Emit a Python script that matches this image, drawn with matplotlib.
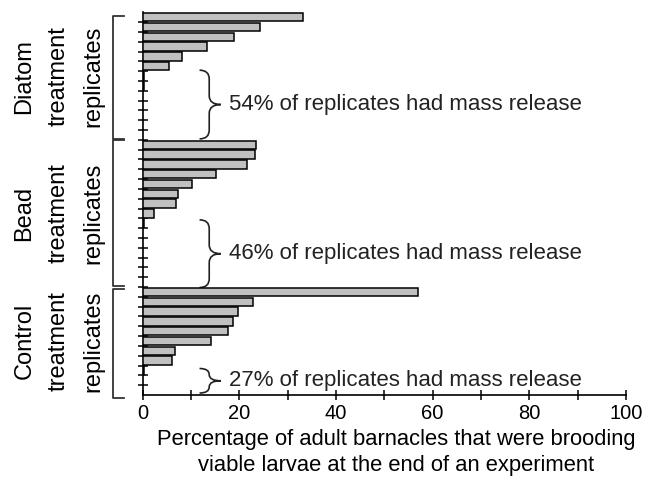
import matplotlib
matplotlib.use("Agg")
import matplotlib.pyplot as plt
import matplotlib.transforms as mtransforms
from matplotlib.path import Path
from matplotlib.patches import PathPatch
import numpy as np

plt.rcParams["font.family"] = ["Liberation Sans", "DejaVu Sans"]

# percentage of adults brooding viable larvae, one value per replicate (top to bottom)
diatom = [33.1, 24.2, 19.0, 13.4, 8.2, 5.4, 0.4, 0.3, 0, 0, 0, 0, 0]
bead = [23.5, 23.3, 21.6, 15.3, 10.2, 7.3, 7.0, 2.4, 0.4, 0, 0, 0, 0, 0, 0]
control = [57.0, 22.9, 19.8, 18.7, 17.7, 14.2, 6.7, 6.2, 0.4, 0, 0]

group_labels = ["Diatom\ntreatment\nreplicates",
                "Bead\ntreatment\nreplicates",
                "Control\ntreatment\nreplicates"]
release_notes = ["54% of replicates had mass release",
                 "46% of replicates had mass release",
                 "27% of replicates had mass release"]
xticks_major = [0, 20, 40, 60, 80, 100]
xticks_minor = [10, 30, 50, 70, 90]

groups = [diatom, bead, control]
values = np.concatenate(groups)
n = len(values)
pos = np.arange(n) + 0.5

fig = plt.figure(figsize=(6.51, 4.90), dpi=100)
ax = fig.add_axes([142.5 / 651, 1 - 395 / 490, 483.5 / 651, (395 - 12.3) / 490])

keep = values > 0
ax.barh(pos[keep], values[keep], height=0.85, color="#c0c0c0",
        edgecolor="black", linewidth=1.1, zorder=3)

ax.set_ylim(n, 0)
ax.set_xlim(0, 100)
ax.set_yticks(np.arange(1, n))
ax.set_yticklabels([])
ax.set_xticks(xticks_major)
ax.set_xticks(xticks_minor, minor=True)
ax.tick_params(axis="y", direction="inout", length=7, width=1.1)
ax.tick_params(axis="x", which="both", direction="inout", length=7, width=1.1,
               labelsize=14.5, pad=3)
for s in ["top", "right"]:
    ax.spines[s].set_visible(False)
for s in ["left", "bottom"]:
    ax.spines[s].set_linewidth(1.2)

ax.set_xlabel("Percentage of adult barnacles that were brooding\n"
              "viable larvae at the end of an experiment", fontsize=15.8,
              linespacing=1.3)
ax.xaxis.set_label_coords(0.524, -0.09)

# group labels and brackets on the left
trans = mtransforms.blended_transform_factory(fig.transFigure, ax.transData)
starts = np.cumsum([0] + [len(g) for g in groups])
bracket_ends = [(0.35, 12.9), (13.05, 27.9), (28.2, 39.3)]
for i, lab in enumerate(group_labels):
    yc = (starts[i] + starts[i + 1]) / 2
    fig.text(59 / 651, yc, lab, transform=trans, rotation=90, ha="center",
             va="center", multialignment="center", fontsize=17,
             linespacing=1.75)
    y0, y1 = bracket_ends[i]
    xa, xb = 113 / 651, 124 / 651
    ax.plot([xb, xa, xa, xb], [y0, y0, y1, y1], transform=trans, color="#333333",
            linewidth=1.3, clip_on=False)

# curly braces with notes on mass release
brace_spans = [(5.9, 12.9), (21.15, 28.05), (36.3, 38.8)]
x_hook, x_mid, x_tip = 11.8, 13.8, 16.2
for (yt, yb), note in zip(brace_spans, release_notes):
    yc = (yt + yb) / 2
    r = min(0.9, (yb - yt) / 4)
    verts = [(x_hook, yt), (x_mid, yt), (x_mid, yt + r),
             (x_mid, yc - r), (x_mid, yc), (x_tip, yc),
             (x_mid, yc), (x_mid, yc + r),
             (x_mid, yb - r), (x_mid, yb), (x_hook, yb)]
    codes = [Path.MOVETO, Path.CURVE3, Path.CURVE3,
             Path.LINETO, Path.CURVE3, Path.CURVE3,
             Path.CURVE3, Path.CURVE3,
             Path.LINETO, Path.CURVE3, Path.CURVE3]
    ax.add_patch(PathPatch(Path(verts, codes), facecolor="none",
                           edgecolor="#222222", linewidth=1.2, clip_on=False))
    ax.text(17.9, yc, note, ha="left", va="center", fontsize=16,
            color="#222222")

fig.savefig("out.png", dpi=100)
